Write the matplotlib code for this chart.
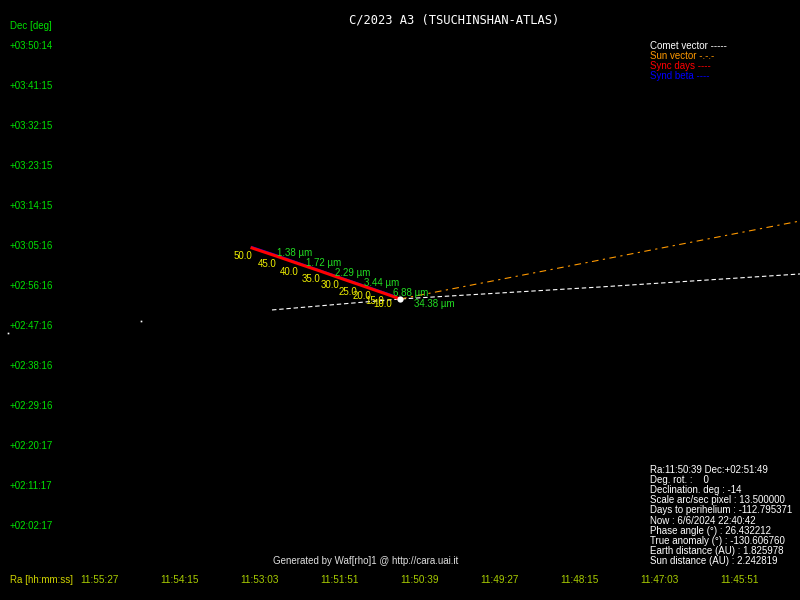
import numpy as np
import matplotlib
matplotlib.use("Agg")
import matplotlib.pyplot as plt
import matplotlib.transforms as mtransforms

plt.rcParams['font.family'] = ['Liberation Sans', 'DejaVu Sans']

# comet position and plate scale
title = "C/2023 A3 (TSUCHINSHAN-ATLAS)"
ra_c = "11:50:39"
dec_c = "+02:51:49"
scale = 13.5  # arcsec per pixel

ra_ticks = ["11:55:27", "11:54:15", "11:53:03", "11:51:51", "11:50:39",
            "11:49:27", "11:48:15", "11:47:03", "11:45:51"]
dec_ticks = ["+03:50:14", "+03:41:15", "+03:32:15", "+03:23:15", "+03:14:15",
             "+03:05:16", "+02:56:16", "+02:47:16", "+02:38:16", "+02:29:16",
             "+02:20:17", "+02:11:17", "+02:02:17"]

# offsets from nucleus in arcsec (east, north)
comet_vec_x = [1728, 0, -2700, -5400]
comet_vec_y = [-148, 0, 162, 338]
sun_vec_x = [0, -5400]
sun_vec_y = [0, 1053]

sync_days = [50.0, 45.0, 40.0, 35.0, 30.0, 25.0, 20.0, 15.0, 10.0]
sync_x = [1998, 1660, 1364, 1080, 824, 580, 392, 216, 108]
sync_y = [689, 576, 474, 378, 288, 204, 139, 78, 40]

synd_um = [1.38, 1.72, 2.29, 3.44, 6.88, 34.38]
synd_x = [1660, 1269, 878, 486, 94, -189]
synd_y = [590, 453, 318, 183, 48, -108]

stars_x = [3496, 5292]
stars_y = [-297, -459]

info = ["Ra:11:50:39 Dec:+02:51:49",
        "Deg. rot. :    0",
        "Declination. deg : -14",
        "Scale arc/sec pixel : 13.500000",
        "Days to perihelium : -112.795371",
        "Now : 6/6/2024 22:40:42",
        "Phase angle (\u00b0) : 26.432212",
        "True anomaly (\u00b0) : -130.606760",
        "Earth distance (AU) : 1.825978",
        "Sun distance (AU) : 2.242819"]


def to_sec(s):
    sign = -1 if s.startswith('-') else 1
    h, m, sec = s.lstrip('+-').split(':')
    return sign * (int(h) * 3600 + int(m) * 60 + int(sec))


fig = plt.figure(figsize=(8, 6), dpi=100, facecolor='black')
ax = fig.add_axes([0, 0, 1, 1])
ax.set_facecolor('black')
ax.set_xlim(400 * scale, -400 * scale)
ax.set_ylim(-301 * scale, 299 * scale)
ax.axis('off')

# vectors
ax.plot(comet_vec_x, comet_vec_y, color='white', lw=0.8, dashes=(4, 2.5))
ax.plot(sun_vec_x, sun_vec_y, color='#ff9900', lw=0.8, dashes=(6, 4, 2, 4))

# synd beta (blue) under sync days (red)
ax.plot([sync_x[0]] + synd_x[:-1] + [0], [sync_y[0] + 14] + synd_y[:-1] + [0],
        color='#0000ff', lw=1.2)
ax.plot(sync_x + [0], sync_y + [0], color='#ff0000', lw=2.2)

for d, x, y in zip(sync_days, sync_x, sync_y):
    ax.annotate("%.1f" % d, (x, y), xytext=(0, -2), textcoords='offset points',
                ha='right', va='top', color='#f0f000', fontsize=7)
for b, x, y in zip(synd_um, synd_x, synd_y):
    ax.annotate("%.2f \u00b5m" % b, (x, y), xytext=(0, 2), textcoords='offset points',
                ha='left', va='center', color='#22dd22', fontsize=7)

ax.plot(stars_x, stars_y, 's', color='white', ms=1.2, mew=0)
ax.plot([0], [0], 'o', color='white', ms=4.5, mew=0)

# axis labels drawn as text
ty = mtransforms.blended_transform_factory(ax.transAxes, ax.transData)
ty = mtransforms.offset_copy(ty, fig=fig, x=0, y=-2, units='dots')
for t in dec_ticks:
    ax.text(10 / 800, to_sec(t) - to_sec(dec_c), t, transform=ty,
            ha='left', va='top', color='#00e000', fontsize=7)
tx = mtransforms.blended_transform_factory(ax.transData, ax.transAxes)
for t in ra_ticks:
    ax.text((to_sec(t) - to_sec(ra_c)) * 15, 20 / 600, t, transform=tx,
            ha='left', va='center', color='#a8cc00', fontsize=7.2)

ax.text(10 / 800, 574 / 600, "Dec [deg]", transform=ax.transAxes,
        ha='left', va='center', color='#00e000', fontsize=7)
ax.text(10 / 800, 20 / 600, "Ra [hh:mm:ss]", transform=ax.transAxes,
        ha='left', va='center', color='#d0d400', fontsize=7)
ax.text(454 / 800, 580 / 600, title, transform=ax.transAxes, ha='center',
        va='center', color='white', fontsize=8.7, family='DejaVu Sans Mono')
ax.text(366 / 800, 39 / 600, "Generated by Waf[rho]1 @ http://cara.uai.it",
        transform=ax.transAxes, ha='center', va='center', color='#e0e0e0', fontsize=7)

legend = [("Comet vector -----", 'white'), ("Sun vector -.-.-", '#ff9900'),
          ("Sync days ----", '#ff0000'), ("Synd beta ----", '#0000ff')]
for i, (s, c) in enumerate(legend):
    ax.text(650 / 800, (600 - 46 - 10 * i) / 600, s, transform=ax.transAxes,
            ha='left', va='center', color=c, fontsize=7)

for i, s in enumerate(info):
    ax.text(650 / 800, (600 - 470 - 10.1 * i) / 600, s, transform=ax.transAxes,
            ha='left', va='center', color='white', fontsize=7)

fig.savefig("out.png", dpi=100, facecolor='black')
